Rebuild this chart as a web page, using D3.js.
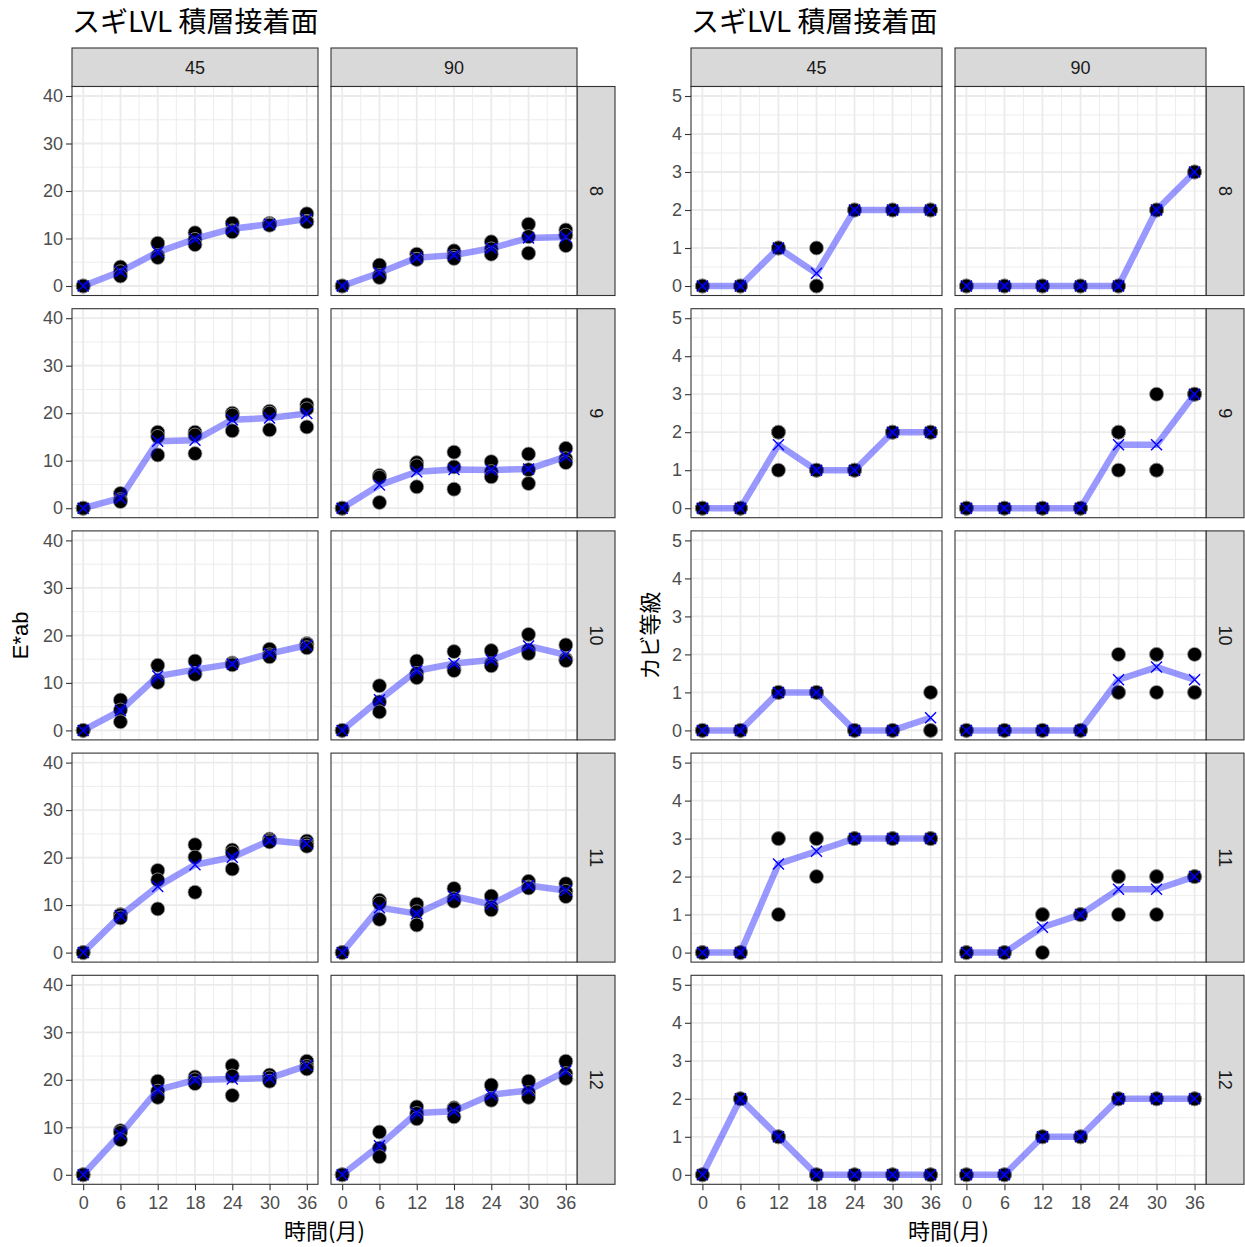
<!DOCTYPE html>
<html>
<head>
<meta charset="utf-8">
<script src="https://cdn.jsdelivr.net/npm/d3@7"></script>
<style>
  body { margin: 0; background: #fff; }
  svg text { font-family: "Liberation Sans", Arial, "Noto Sans CJK JP", sans-serif; }
  svg text.jp { font-family: "Noto Sans CJK JP", "Liberation Sans", sans-serif; }
</style>
</head>
<body>
<svg id="chart" width="1245" height="1247"></svg>
<script>
// ---- facet levels and axis ticks ----
const months = [0, 6, 12, 18, 24, 30, 36];
const monthMinor = [3, 9, 15, 21, 27, 33];
const colLevels = ["45", "90"];
const rowLevels = ["8", "9", "10", "11", "12"];
const eabTicks = [0, 10, 20, 30, 40];
const eabMinor = [5, 15, 25, 35];
const moldTicks = [0, 1, 2, 3, 4, 5];
const moldMinor = [0.5, 1.5, 2.5, 3.5, 4.5];

// ---- E*ab: three specimens per month (0,6,...,36) ----
const eab_8_45  = [[0,0,0],[4.0,3.0,2.1],[9.0,6.4,6.0],[11.2,9.8,8.7],[13.2,11.6,11.4],[13.2,13.0,12.8],[15.2,13.6,13.5]];
const eab_8_90  = [[0,0,0],[4.4,2.2,1.8],[6.7,5.6,5.6],[7.4,6.3,5.8],[9.3,7.8,6.7],[13.0,10.4,6.9],[11.8,10.7,8.5]];
const eab_9_45  = [[0,0,0],[3.1,1.8,1.4],[16.0,15.1,11.2],[16.0,15.4,11.5],[20.0,19.6,16.3],[20.4,20.0,16.5],[21.8,20.9,17.1]];
const eab_9_90  = [[0,0,0],[6.9,6.5,1.2],[9.6,8.9,4.5],[11.8,8.7,4.0],[9.8,7.7,6.6],[11.4,8.1,5.2],[12.6,10.4,9.6]];
const eab_10_45 = [[0,0,0],[6.4,4.3,1.8],[13.7,10.5,10.1],[14.6,12.0,11.8],[14.2,14.0,13.8],[17.1,15.9,15.5],[18.3,18.1,17.4]];
const eab_10_90 = [[0,0,0],[9.4,6.0,3.9],[14.6,12.0,11.1],[16.6,13.0,12.6],[16.8,14.0,13.6],[20.2,16.9,16.2],[18.0,15.0,14.7]];
const eab_11_45 = [[0,0,0],[8.0,7.9,7.3],[17.3,15.3,9.2],[22.7,20.1,12.7],[21.6,21.0,17.6],[23.9,23.6,23.3],[23.5,22.9,22.4]];
const eab_11_90 = [[0,0,0],[11.0,10.4,7.0],[10.2,8.6,5.8],[13.5,11.3,10.8],[11.9,9.6,9.0],[15.0,13.8,13.6],[14.5,12.9,11.8]];
const eab_12_45 = [[0,0,0],[9.3,8.9,7.4],[19.7,17.6,16.3],[20.6,20.0,19.2],[23.0,20.8,16.7],[21.0,20.4,19.7],[23.9,22.8,22.3]];
const eab_12_90 = [[0,0,0],[9.0,5.6,3.8],[14.3,12.9,11.8],[14.1,13.9,12.2],[18.9,16.0,15.7],[19.7,17.3,16.3],[23.9,21.3,20.3]];

// ---- mold grade: three specimens per month ----
const mold_8_45  = [[0,0,0],[0,0,0],[1,1,1],[1,0,0],[2,2,2],[2,2,2],[2,2,2]];
const mold_8_90  = [[0,0,0],[0,0,0],[0,0,0],[0,0,0],[0,0,0],[2,2,2],[3,3,3]];
const mold_9_45  = [[0,0,0],[0,0,0],[2,2,1],[1,1,1],[1,1,1],[2,2,2],[2,2,2]];
const mold_9_90  = [[0,0,0],[0,0,0],[0,0,0],[0,0,0],[2,2,1],[3,1,1],[3,3,3]];
const mold_10_45 = [[0,0,0],[0,0,0],[1,1,1],[1,1,1],[0,0,0],[0,0,0],[1,0,0]];
const mold_10_90 = [[0,0,0],[0,0,0],[0,0,0],[0,0,0],[2,1,1],[2,2,1],[2,1,1]];
const mold_11_45 = [[0,0,0],[0,0,0],[3,3,1],[3,3,2],[3,3,3],[3,3,3],[3,3,3]];
const mold_11_90 = [[0,0,0],[0,0,0],[1,1,0],[1,1,1],[2,2,1],[2,2,1],[2,2,2]];
const mold_12_45 = [[0,0,0],[2,2,2],[1,1,1],[0,0,0],[0,0,0],[0,0,0],[0,0,0]];
const mold_12_90 = [[0,0,0],[0,0,0],[1,1,1],[1,1,1],[2,2,2],[2,2,2],[2,2,2]];

const chartTitle = "スギLVL 積層接着面";
const xTitle = "時間(月)";

const eabPanels = [
  [eab_8_45, eab_8_90], [eab_9_45, eab_9_90], [eab_10_45, eab_10_90],
  [eab_11_45, eab_11_90], [eab_12_45, eab_12_90]
];
const moldPanels = [
  [mold_8_45, mold_8_90], [mold_9_45, mold_9_90], [mold_10_45, mold_10_90],
  [mold_11_45, mold_11_90], [mold_12_45, mold_12_90]
];

const svg = d3.select("#chart");

// shared vertical layout of the facet rows
const stripTop = 48, panelTop0 = 86.5, rowPitch = 222.2, panelH = 209;
const tickFont = 18;

function drawFacetGrid(cfg) {
  const g = svg.append("g");
  const yTop = panelTop0, yBottom = panelTop0 + (rowLevels.length - 1) * rowPitch + panelH;

  // title
  g.append("text").attr("class", "jp")
    .attr("x", cfg.cols[0][0]).attr("y", 32)
    .attr("font-size", 28).attr("fill", "#000")
    .text(chartTitle);

  // y axis title
  g.append("text").attr("class", cfg.yTitleClass)
    .attr("transform", `translate(${cfg.yTitleX},${(yTop + yBottom) / 2}) rotate(-90)`)
    .attr("text-anchor", "middle").attr("font-size", 22).attr("fill", "#000")
    .text(cfg.yTitle);

  // x axis title
  g.append("text").attr("class", "jp")
    .attr("x", (cfg.cols[0][0] + cfg.cols[1][1]) / 2).attr("y", 1239)
    .attr("text-anchor", "middle").attr("font-size", 22).attr("fill", "#000")
    .text(xTitle);

  // column strips
  cfg.cols.forEach((c, ci) => {
    g.append("rect").attr("x", c[0]).attr("y", stripTop)
      .attr("width", c[1] - c[0]).attr("height", panelTop0 - stripTop)
      .attr("fill", "#D9D9D9").attr("stroke", "#333").attr("stroke-width", 1.1);
    g.append("text").attr("x", (c[0] + c[1]) / 2).attr("y", (stripTop + panelTop0) / 2)
      .attr("dy", "0.36em").attr("text-anchor", "middle")
      .attr("font-size", 18).attr("fill", "#1A1A1A").text(colLevels[ci]);
  });

  rowLevels.forEach((rl, ri) => {
    const top = panelTop0 + ri * rowPitch, bottom = top + panelH;
    const y = d3.scaleLinear().domain(cfg.yDomain).range([bottom, top]);

    // row strip
    g.append("rect").attr("x", cfg.strip[0]).attr("y", top)
      .attr("width", cfg.strip[1] - cfg.strip[0]).attr("height", panelH)
      .attr("fill", "#D9D9D9").attr("stroke", "#333").attr("stroke-width", 1.1);
    g.append("text")
      .attr("transform", `translate(${(cfg.strip[0] + cfg.strip[1]) / 2},${(top + bottom) / 2}) rotate(90)`)
      .attr("dy", "0.36em").attr("text-anchor", "middle")
      .attr("font-size", 18).attr("fill", "#1A1A1A").text(rl);

    cfg.cols.forEach((c, ci) => {
      const x = d3.scaleLinear().domain([-1.8, 37.8]).range([c[0], c[1]]);
      const p = g.append("g");
      p.append("rect").attr("x", c[0]).attr("y", top)
        .attr("width", c[1] - c[0]).attr("height", panelH).attr("fill", "#fff");

      // grid
      p.selectAll(null).data(cfg.yMinor).join("line")
        .attr("x1", c[0]).attr("x2", c[1]).attr("y1", d => y(d)).attr("y2", d => y(d))
        .attr("stroke", "#EBEBEB").attr("stroke-width", 0.9);
      p.selectAll(null).data(monthMinor).join("line")
        .attr("y1", top).attr("y2", bottom).attr("x1", d => x(d)).attr("x2", d => x(d))
        .attr("stroke", "#EBEBEB").attr("stroke-width", 0.9);
      p.selectAll(null).data(cfg.yTicks).join("line")
        .attr("x1", c[0]).attr("x2", c[1]).attr("y1", d => y(d)).attr("y2", d => y(d))
        .attr("stroke", "#EBEBEB").attr("stroke-width", 1.8);
      p.selectAll(null).data(months).join("line")
        .attr("y1", top).attr("y2", bottom).attr("x1", d => x(d)).attr("x2", d => x(d))
        .attr("stroke", "#EBEBEB").attr("stroke-width", 1.8);

      const reps = cfg.panels[ri][ci];
      const pts = [];
      reps.forEach((vals, mi) => vals.forEach(v => pts.push([months[mi], v])));
      const means = reps.map((vals, mi) => [months[mi], d3.mean(vals)]);

      // specimens
      p.selectAll(null).data(pts).join("circle")
        .attr("cx", d => x(d[0])).attr("cy", d => y(d[1])).attr("r", 7)
        .attr("fill", "#000").attr("stroke", "#9a9a9a").attr("stroke-width", 0.8);

      // mean line
      p.append("path").datum(means)
        .attr("d", d3.line().x(d => x(d[0])).y(d => y(d[1])))
        .attr("fill", "none").attr("stroke", "#0000FF").attr("stroke-opacity", 0.4)
        .attr("stroke-width", 6.5).attr("stroke-linejoin", "round");

      // mean markers (x)
      const s = 5.5;
      p.selectAll(null).data(means).join("path")
        .attr("d", d => {
          const cx = x(d[0]), cy = y(d[1]);
          return `M${cx - s},${cy - s}L${cx + s},${cy + s}M${cx - s},${cy + s}L${cx + s},${cy - s}`;
        })
        .attr("stroke", "#0000FF").attr("stroke-width", 1.4).attr("fill", "none");

      // border
      p.append("rect").attr("x", c[0]).attr("y", top)
        .attr("width", c[1] - c[0]).attr("height", panelH)
        .attr("fill", "none").attr("stroke", "#333").attr("stroke-width", 1.1);

      // y axis on first column
      if (ci === 0) {
        const ax = g.append("g").attr("transform", `translate(${c[0]},0)`)
          .call(d3.axisLeft(y).tickValues(cfg.yTicks).tickSize(6).tickPadding(3).tickFormat(d3.format("d")));
        ax.select(".domain").remove();
        ax.selectAll(".tick line").attr("stroke", "#333").attr("stroke-width", 1.1);
        ax.selectAll(".tick text").attr("fill", "#4D4D4D").attr("font-size", tickFont);
      }
      // x axis on last row
      if (ri === rowLevels.length - 1) {
        const ax = g.append("g").attr("transform", `translate(0,${bottom})`)
          .call(d3.axisBottom(x).tickValues(months).tickSize(6).tickPadding(6).tickFormat(d3.format("d")));
        ax.select(".domain").remove();
        ax.selectAll(".tick line").attr("stroke", "#333").attr("stroke-width", 1.1);
        ax.selectAll(".tick text").attr("fill", "#4D4D4D").attr("font-size", tickFont);
      }
    });
  });
}

drawFacetGrid({
  cols: [[72, 318], [331, 577]], strip: [577, 615],
  yDomain: [-2, 42], yTicks: eabTicks, yMinor: eabMinor,
  panels: eabPanels, yTitle: "E*ab", yTitleX: 28, yTitleClass: ""
});

drawFacetGrid({
  cols: [[691, 942], [955, 1206]], strip: [1206, 1244],
  yDomain: [-0.25, 5.25], yTicks: moldTicks, yMinor: moldMinor,
  panels: moldPanels, yTitle: "カビ等級", yTitleX: 658, yTitleClass: "jp"
});
</script>
</body>
</html>
